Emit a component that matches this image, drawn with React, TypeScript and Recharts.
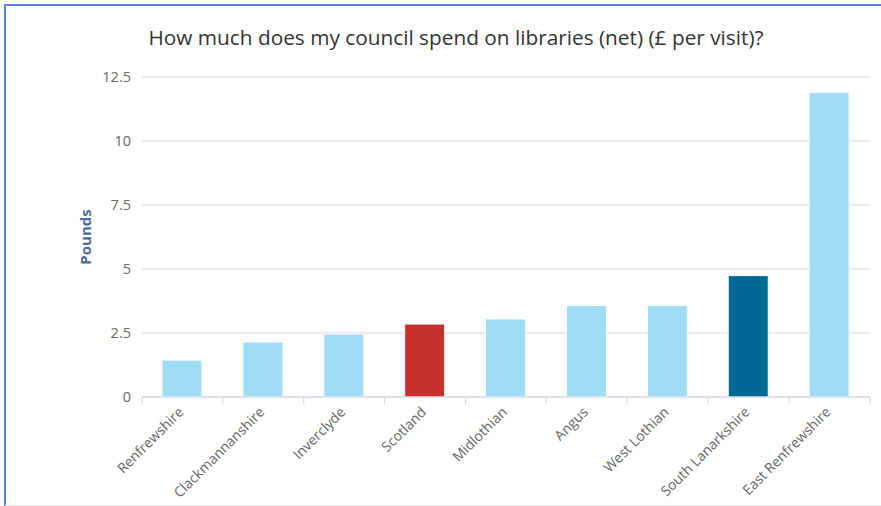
import React from "react";
import { BarChart, Bar, XAxis, YAxis, CartesianGrid, Cell } from "recharts";

const categories = [
  "Renfrewshire",
  "Clackmannanshire",
  "Inverclyde",
  "Scotland",
  "Midlothian",
  "Angus",
  "West Lothian",
  "South Lanarkshire",
  "East Renfrewshire",
];
const poundsPerVisit = [1.44, 2.15, 2.46, 2.85, 3.05, 3.57, 3.57, 4.74, 11.9];
const yTicks = [0, 2.5, 5, 7.5, 10, 12.5];

const data = categories.map((name, i) => ({ name, value: poundsPerVisit[i] }));

const W = 881;
const H = 506;
const XH = 30;
const M = { top: 77, right: 11, bottom: 109 - XH, left: 82 };
const YW = 60;
const plotW = W - M.left - M.right - YW;
const bw = plotW / categories.length;

const BASE = "#a0dcf5";
const highlight: Record<string, string> = {
  Scotland: "#c8302c",
  "South Lanarkshire": "#006994",
};
const FONT = '"Open Sans", "Noto Sans", sans-serif';

const XTick = (props: any) => {
  const { x, y, payload, index } = props;
  const ay = y - 8;
  return (
    <g>
      <line x1={x - bw / 2} y1={ay} x2={x - bw / 2} y2={ay + 7} stroke="#ccd6eb" />
      {index === categories.length - 1 && (
        <line x1={x + bw / 2} y1={ay} x2={x + bw / 2} y2={ay + 7} stroke="#ccd6eb" />
      )}
      <text
        x={x + 2}
        y={ay + 16}
        textAnchor="end"
        transform={`rotate(-45 ${x + 2} ${ay + 16})`}
        fill="#666666"
        fontSize={14}
        fontFamily={FONT}
      >
        {payload.value}
      </text>
    </g>
  );
};

export default function App() {
  return (
    <div style={{ position: "absolute", left: 0, top: 0, width: W, height: H, background: "#fff" }}>
      <div
        style={{
          position: "absolute",
          left: 4,
          top: 4,
          width: W - 4,
          height: H - 4,
          boxSizing: "border-box",
          borderTop: "2px solid #5b82d6",
          borderLeft: "2px solid #5b82d6",
          borderBottom: "1px solid #e8e8e8",
        }}
      />
      <div
        style={{
          position: "absolute",
          left: 0,
          top: 23,
          width: 912,
          textAlign: "center",
          fontFamily: FONT,
          fontSize: 20.8,
          color: "#333333",
          whiteSpace: "nowrap",
        }}
      >
        How much does my council spend on libraries (net) (£ per visit)?
      </div>
      <div
        style={{
          position: "absolute",
          left: 85,
          top: 237,
          transform: "translate(-50%, -50%) rotate(-90deg)",
          fontFamily: FONT,
          fontSize: 15,
          fontWeight: 700,
          color: "#4a6d9c",
          whiteSpace: "nowrap",
        }}
      >
        Pounds
      </div>
      <div style={{ position: "absolute", left: 0, top: 0 }}>
        <BarChart width={W} height={H} data={data} margin={M}>
          <CartesianGrid horizontal vertical={false} stroke="#d8d8d8" />
          <XAxis
            dataKey="name"
            interval={0}
            height={XH}
            axisLine={{ stroke: "#ccd6eb" }}
            tickLine={false}
            tick={<XTick />}
          />
          <YAxis
            width={YW}
            domain={[0, 12.5]}
            ticks={yTicks}
            axisLine={false}
            tickLine={false}
            tickMargin={5}
            tick={{ fill: "#666666", fontSize: 14.5, fontFamily: FONT }}
          />
          <Bar dataKey="value" barSize={40} stroke="#ffffff" strokeWidth={1} isAnimationActive={false}>
            {data.map((d) => (
              <Cell key={d.name} fill={highlight[d.name] ?? BASE} />
            ))}
          </Bar>
        </BarChart>
      </div>
    </div>
  );
}
